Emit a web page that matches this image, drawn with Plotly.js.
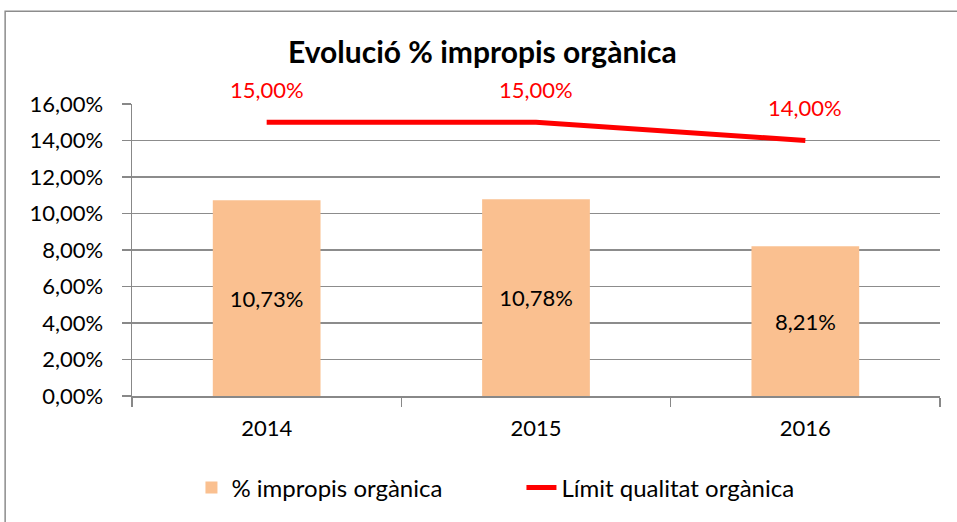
<!DOCTYPE html>
<html><head><meta charset="utf-8">
<script src="https://cdn.plot.ly/plotly-3.0.1.min.js"></script>
<style>html,body{margin:0;padding:0;background:#fff}#chart{width:957px;height:522px}</style>
</head><body><div id="chart"></div>
<script>
const years = ['2014', '2015', '2016'];
const impropis = [10.73, 10.78, 8.21];
const limit = [15.00, 15.00, 14.00];
const yTicks = [0, 2, 4, 6, 8, 10, 12, 14, 16];

const fmt = v => v.toFixed(2).replace('.', ',') + '%';
const FONT = 'Lato, "Open Sans", sans-serif';

const traces = [
  {
    type: 'bar', x: years, y: impropis, name: '% impropis orgànica',
    marker: {color: '#FAC090'}, width: 0.4,
    text: impropis.map(fmt), textposition: 'inside', insidetextanchor: 'middle',
    textfont: {size: 22, color: '#000', family: FONT}, textangle: 0,
    hoverinfo: 'skip'
  },
  {
    type: 'scatter', mode: 'lines', x: years, y: limit, name: 'Límit qualitat orgànica',
    line: {color: '#FF0000', width: 5}, hoverinfo: 'skip'
  }
];

// annotations placed by category index (0, 1, 2) on the category axis
const annotations = years.map((yr, i) => ({
  x: i, y: limit[i], xref: 'x', yref: 'y', text: fmt(limit[i]),
  showarrow: false, yshift: 33, font: {size: 22, color: '#FF0000', family: FONT}
}));

const layout = {
  width: 957, height: 522,
  margin: {l: 132, r: 17, t: 104, b: 126},
  paper_bgcolor: '#fff', plot_bgcolor: '#fff',
  separators: ',.',
  font: {family: FONT, color: '#000', size: 22},
  title: {text: '<b>Evolució % impropis orgànica</b>', x: 0.504, xref: 'container', xanchor: 'center',
          y: 0.9, yref: 'container', yanchor: 'middle', font: {size: 30, family: FONT, color: '#000'}},
  xaxis: {type: 'category', range: [-0.5, 2.5], autorange: false, showgrid: false, showline: true,
          linecolor: '#888', linewidth: 1.5, ticks: 'outside', tickson: 'boundaries', ticklen: 9,
          tickcolor: '#888', tickwidth: 1.5, tickfont: {size: 22}, ticklabelstandoff: 12, zeroline: false},
  yaxis: {range: [0, 16], autorange: false, tickvals: yTicks, ticktext: yTicks.map(fmt), showgrid: true,
          gridcolor: '#8c8c8c', gridwidth: 1.5, showline: true, linecolor: '#888', linewidth: 1.5,
          ticks: 'outside', ticklen: 9, tickcolor: '#888', tickwidth: 1.5, tickfont: {size: 22},
          zeroline: false, ticklabelstandoff: 14},
  showlegend: true,
  legend: {orientation: 'h', x: 0.482, xanchor: 'center', y: -0.315, yanchor: 'middle',
           font: {size: 24}, traceorder: 'normal', entrywidth: 285, itemwidth: 30},
  annotations: annotations,
  shapes: [
    {type: 'rect', xref: 'paper', yref: 'paper', x0: -0.157, x1: 1.5, y0: -1, y1: 1.318,
     line: {color: '#8c8c8c', width: 1.5}, fillcolor: 'rgba(0,0,0,0)', layer: 'below'}
  ]
};

Plotly.newPlot('chart', traces, layout, {displayModeBar: false, staticPlot: true});
</script></body></html>
